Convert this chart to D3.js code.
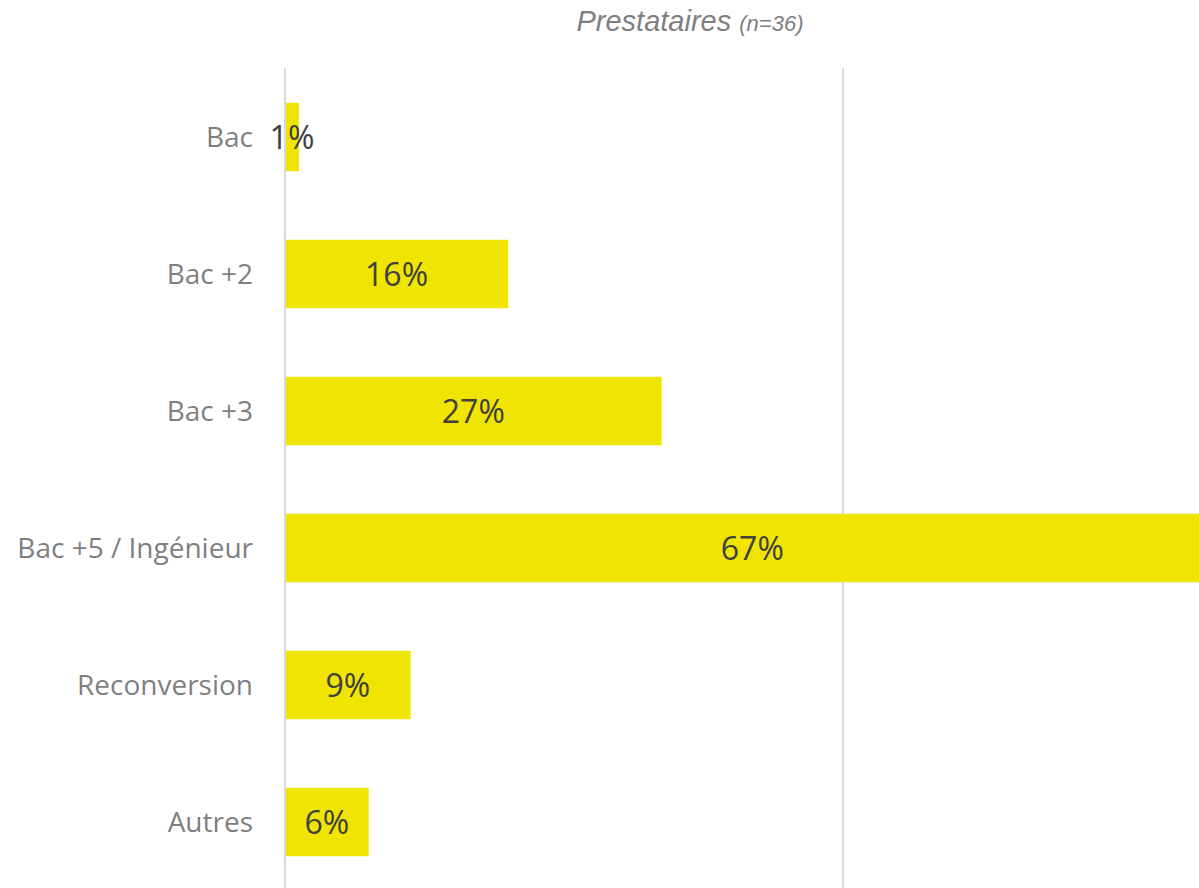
<!DOCTYPE html>
<html>
<head>
<meta charset="utf-8">
<script src="https://cdn.jsdelivr.net/npm/d3@7"></script>
<style>
  body { margin: 0; background: #fff; }
  svg { display: block; }
</style>
</head>
<body>
<svg id="chart"></svg>
<script>
// données du graphique
const categories = ["Bac", "Bac +2", "Bac +3", "Bac +5 / Ingénieur", "Reconversion", "Autres"];
const values = [0.01, 0.16, 0.27, 0.67, 0.09, 0.06];
const gridValues = [0, 0.4, 0.8];
const titleMain = "Prestataires";
const titleSub = "(n=36)";

const width = 1199, height = 888;

const svg = d3.select("#chart")
    .attr("width", width)
    .attr("height", height);

// échelles
const x = d3.scaleLinear().domain([0, 0.4]).range([285, 843]);
const y = d3.scaleBand()
    .domain(categories)
    .range([68.5, 890.5])
    .paddingInner(0.5)
    .paddingOuter(0.25);

// lignes verticales (grille)
svg.append("g")
    .selectAll("line")
    .data(gridValues)
    .enter().append("line")
    .attr("x1", d => x(d))
    .attr("x2", d => x(d))
    .attr("y1", 68)
    .attr("y2", height)
    .style("stroke", "#d9d9d9")
    .style("stroke-width", "2px");

// barres
svg.append("g")
    .selectAll("rect")
    .data(values)
    .enter().append("rect")
    .attr("x", x(0) + 1)
    .attr("y", (d, i) => y(categories[i]))
    .attr("width", d => x(d) - x(0) - 1)
    .attr("height", y.bandwidth())
    .style("fill", "#f0e500");

// étiquettes de valeurs
svg.append("g")
    .selectAll("text")
    .data(values)
    .enter().append("text")
    .attr("x", d => (x(0) + x(d)) / 2)
    .attr("y", (d, i) => y(categories[i]) + y.bandwidth() / 2)
    .attr("dy", "0.36em")
    .attr("text-anchor", "middle")
    .style("font-family", "'Open Sans', sans-serif")
    .style("font-size", "32px")
    .style("fill", "#404040")
    .text(d => Math.round(d * 100) + "%");

// étiquettes des catégories
svg.append("g")
    .selectAll("text")
    .data(categories)
    .enter().append("text")
    .attr("x", 253)
    .attr("y", d => y(d) + y.bandwidth() / 2)
    .attr("dy", "0.35em")
    .attr("text-anchor", "end")
    .style("font-family", "'Open Sans', sans-serif")
    .style("font-size", "28px")
    .style("fill", "#7f7f7f")
    .text(d => d);

// titre
const title = svg.append("text")
    .attr("x", 690)
    .attr("y", 31)
    .attr("text-anchor", "middle")
    .style("font-family", "'Liberation Sans', Arial, sans-serif")
    .style("font-style", "italic")
    .style("fill", "#7f7f7f");
title.append("tspan").style("font-size", "29px").text(titleMain + " ");
title.append("tspan").style("font-size", "22px").text(titleSub);
</script>
</body>
</html>
